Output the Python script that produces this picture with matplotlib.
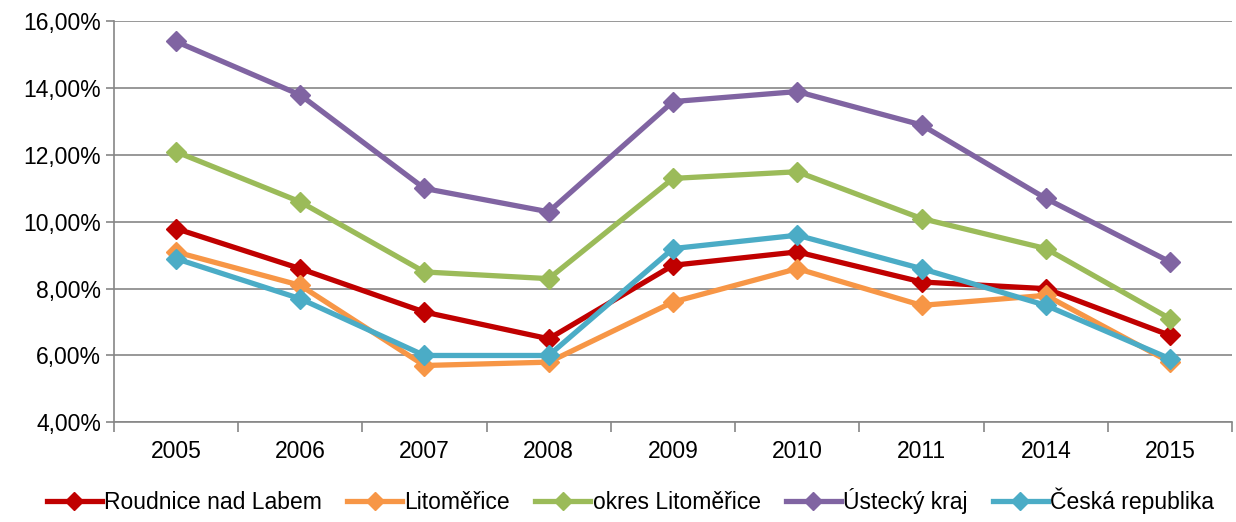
import matplotlib
matplotlib.use("Agg")
import matplotlib.pyplot as plt
import matplotlib.ticker as mtick
import numpy as np

# data (percent)
years = ["2005", "2006", "2007", "2008", "2009", "2010", "2011", "2014", "2015"]
roudnice = [9.8, 8.6, 7.3, 6.5, 8.7, 9.1, 8.2, 8.0, 6.6]
litomerice = [9.1, 8.1, 5.7, 5.8, 7.6, 8.6, 7.5, 7.8, 5.8]
okres = [12.1, 10.6, 8.5, 8.3, 11.3, 11.5, 10.1, 9.2, 7.1]
ustecky = [15.4, 13.8, 11.0, 10.3, 13.6, 13.9, 12.9, 10.7, 8.8]
cr = [8.9, 7.7, 6.0, 6.0, 9.2, 9.6, 8.6, 7.5, 5.9]

series = [
    ("Roudnice nad Labem", roudnice, "#C00000"),
    ("Litoměřice", litomerice, "#F79646"),
    ("okres Litoměřice", okres, "#9BBB59"),
    ("Ústecký kraj", ustecky, "#8064A2"),
    ("Česká republika", cr, "#4BACC6"),
]

plt.rcParams['font.family'] = ['Liberation Sans', 'DejaVu Sans']

fig = plt.figure(figsize=(12.36, 5.22), dpi=100)
ax = fig.add_axes([0.092, 0.191, 0.905, 0.768])

x = np.arange(len(years))
for name, vals, col in series:
    ax.plot(x, vals, color=col, lw=3.8, marker="D", ms=10.5, label=name,
            solid_joinstyle="round", clip_on=False)

grid_col = "#868686"
ax.set_ylim(4, 16)
ax.set_xlim(-0.5, len(years) - 0.5)
ax.yaxis.set_major_locator(mtick.MultipleLocator(2))
ax.yaxis.set_major_formatter(mtick.FuncFormatter(lambda v, p: f"{v:.2f}%".replace(".", ",")))
ax.grid(axis="y", color=grid_col, lw=1.2)
ax.set_axisbelow(True)

ax.set_xticks(x)
ax.set_xticklabels(years)
ax.set_xticks(np.arange(-0.5, len(years)), minor=True)
ax.tick_params(axis="x", which="major", length=0, pad=13, labelsize=16.5)
ax.tick_params(axis="x", which="minor", length=7, color=grid_col, width=1.2)
ax.tick_params(axis="y", length=6, color=grid_col, width=1.2, labelsize=16.5, pad=3)

for s in ["top", "right"]:
    ax.spines[s].set_visible(False)
for s in ["left", "bottom"]:
    ax.spines[s].set_color(grid_col)
    ax.spines[s].set_linewidth(1.2)

fig.legend(loc="lower center", bbox_to_anchor=(0.51, -0.025), ncol=5, frameon=False,
           fontsize=16.5, handlelength=2.4, handletextpad=0.1, columnspacing=1.1,
           markerscale=0.9)

fig.savefig("out.png", dpi=100)
